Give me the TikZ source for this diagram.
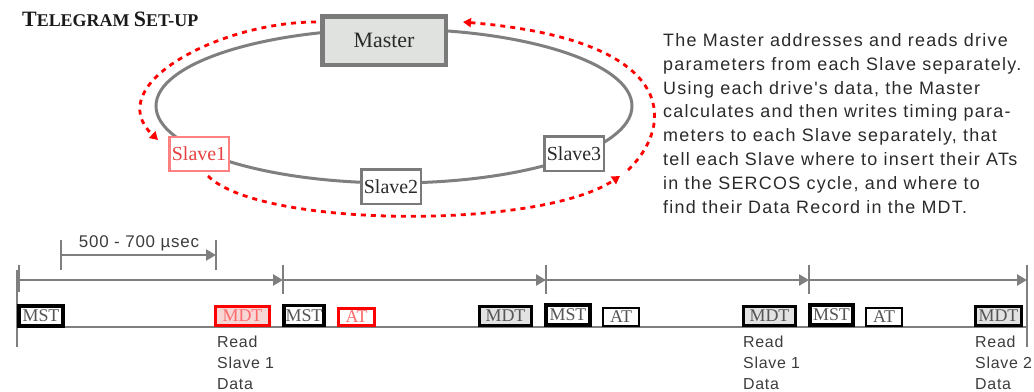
\documentclass[tikz,border=0pt]{standalone}
\usepackage{fontspec}
\setmainfont{Liberation Serif}
\newfontfamily\bodyfont{Liberation Sans}[LetterSpace=7]
\newfontfamily\labelfont{Liberation Sans}[LetterSpace=4.5]
\usetikzlibrary{arrows.meta}

\definecolor{ringgray}{HTML}{7F7F7F}
\definecolor{boxgray}{HTML}{7A7A7A}
\definecolor{masterfill}{HTML}{DFE2DF}
\definecolor{slaveonered}{HTML}{FF8080}
\definecolor{slaveonetext}{HTML}{E84040}
\definecolor{txtgray}{HTML}{2A2A2A}
\definecolor{lblgray}{HTML}{3C3C3C}
\definecolor{pktgray}{HTML}{555555}
\definecolor{pktfill}{HTML}{E2E2E2}
\definecolor{mdtpink}{HTML}{F7D6D6}
\definecolor{mdtred}{HTML}{FF6A6A}

\tikzset{
  ring/.style={draw=ringgray, line width=3bp},
  masterbox/.style={draw=boxgray, line width=4.5bp, fill=masterfill,
    minimum width=123.5bp, minimum height=48.5bp, inner sep=0pt,
    font=\fontsize{22}{22}\selectfont, text=txtgray},
  slavebox/.style={draw=boxgray, line width=2.5bp, fill=white,
    minimum width=59.5bp, minimum height=34bp, inner sep=0pt,
    font=\fontsize{20}{20}\selectfont, text=txtgray},
  reddots/.style={draw=red, line width=2.8bp, dash pattern=on 5bp off 5bp,
    -{Triangle[length=8bp,width=9bp]}},
  axis/.style={draw=ringgray, line width=2.8bp},
  tick/.style={draw=ringgray, line width=2.8bp},
  span/.style={draw=ringgray, line width=2.6bp,
    -{Triangle[length=10bp,width=11bp]}},
  pkt/.style={draw=black, line width=3.2bp, fill=white, inner sep=0pt,
    minimum height=19bp, font=\fontsize{18}{18}\selectfont, text=pktgray},
  mstpkt/.style={pkt, line width=3.6bp, minimum height=20bp},
  mdtpkt/.style={pkt, fill=pktfill},
  atpkt/.style={pkt, line width=2.4bp, minimum height=17.6bp, minimum width=35.6bp},
  redmdt/.style={pkt, draw=red, fill=mdtpink, text=mdtred},
  redat/.style={atpkt, draw=red, line width=3bp, text=mdtred},
  readlbl/.style={anchor=north west, inner sep=0pt, align=left,
    font=\labelfont\fontsize{16}{21}\selectfont, text=lblgray}
}

\begin{document}
\begin{tikzpicture}[x=1bp,y=-1bp]
\useasboundingbox (0,0) rectangle (1034,391);
\clip (0,0) rectangle (1034,391);

% heading
\node[anchor=base west, inner sep=0pt, font=\bfseries, text=black!90] (title) at (22,26)
  {{\fontsize{22}{22}\selectfont T}{\fontsize{18}{18}\selectfont ELEGRAM\ }%
   {\fontsize{22}{22}\selectfont S}{\fontsize{18}{18}\selectfont ET-UP}};

% ring
\draw[ring] (394,106) ellipse [x radius=238, y radius=77];

\node[masterbox] (master) at (384,40.5) {Master};
\node[slavebox, draw=slaveonered, text=slaveonetext] (s1) at (199,154) {Slave1};
\node[slavebox, minimum height=34.5bp] (s2) at (391,186.5) {Slave2};
\node[slavebox, minimum height=34.5bp] (s3) at (574,153.5) {Slave3};

% telegram flow
\coordinate (fa) at (316,22);
\coordinate (fb) at (158,140);
\coordinate (fc) at (208,176);
\coordinate (fd) at (620,176);
\coordinate (fe) at (628,170);
\coordinate (ff) at (463,22);
\draw[reddots] (fa) .. controls (220,22) and (100,85) .. (fb);
\draw[reddots] (fc) .. controls (260,228) and (540,230) .. (fd);
\draw[reddots] (fe) .. controls (675,125) and (680,40) .. (ff);

% description
\node[anchor=north west, inner sep=0pt, align=left,
      font=\bodyfont\fontsize{18}{24}\selectfont, text=txtgray] (desc) at (663,33)
  {The Master addresses and reads drive\\
   parameters from each Slave separately.\\
   Using each drive's data, the Master\\
   calculates and then writes timing para-\\
   meters to each Slave separately, that\\
   tell each Slave where to insert their ATs\\
   in the SERCOS cycle, and where to\\
   find their Data Record in the MDT.};

% cycle time dimension
\coordinate (d0t) at (61,240); \coordinate (d0b) at (61,270);
\coordinate (d1t) at (216,240); \coordinate (d1b) at (216,270);
\draw[tick] (d0t) -- (d0b);
\draw[tick] (d1t) -- (d1b);
\draw[span] (61,255) -- (216,255);
\node[anchor=base, inner sep=0pt, font=\labelfont\fontsize{17}{17}\selectfont, text=lblgray]
  (cyc) at (139,247) {500 - 700 µsec};

% cycle boundaries
\coordinate (c0) at (17,280);
\coordinate (c1) at (283,280);
\coordinate (c2) at (546,280);
\coordinate (c3) at (809,280);
\coordinate (c4) at (1027,280);
\draw[tick] (17,270) -- (17,347);
\draw[tick] (19,265) -- (19,292);
\draw[tick] (1027,265) -- (1027,347);
\foreach \c in {c1,c2,c3} \draw[tick] ([yshift=15bp]\c) -- ([yshift=-14bp]\c);
\draw[span] (c0) -- (c1);
\draw[span] (c1) -- (c2);
\draw[span] (c2) -- (c3);
\draw[span] (c3) -- (c4);

% ring bus time line
\draw[axis] (17,327) -- (1027,327);

\node[mstpkt, minimum width=44.4bp] (mst1) at (41,315.8) {MST};
\node[redmdt, minimum width=53.8bp] (mdt1) at (242.5,316) {MDT};
\node[mstpkt, minimum width=40.4bp] (mst2) at (304,315.5) {MST};
\node[redat] (at1) at (356.5,317) {AT};
\node[mdtpkt, minimum width=51.8bp] (mdt2) at (505.5,316) {MDT};
\node[mstpkt, minimum width=44.4bp] (mst3) at (568,315) {MST};
\node[atpkt] (at2) at (621,317) {AT};
\node[mdtpkt, minimum width=51.8bp] (mdt3) at (769.5,316) {MDT};
\node[mstpkt, minimum width=43.4bp] (mst4) at (831.5,315) {MST};
\node[atpkt] (at3) at (884,317) {AT};
\node[mdtpkt, minimum width=45.8bp] (mdt4) at (998.5,316) {MDT};

\node[readlbl] (r1) at (217,336) {Read\\Slave 1\\Data};
\node[readlbl] (r2) at (743,336) {Read\\Slave 1\\Data};
\node[readlbl] (r3) at (975,336) {Read\\Slave 2\\Data};
\end{tikzpicture}
\end{document}
